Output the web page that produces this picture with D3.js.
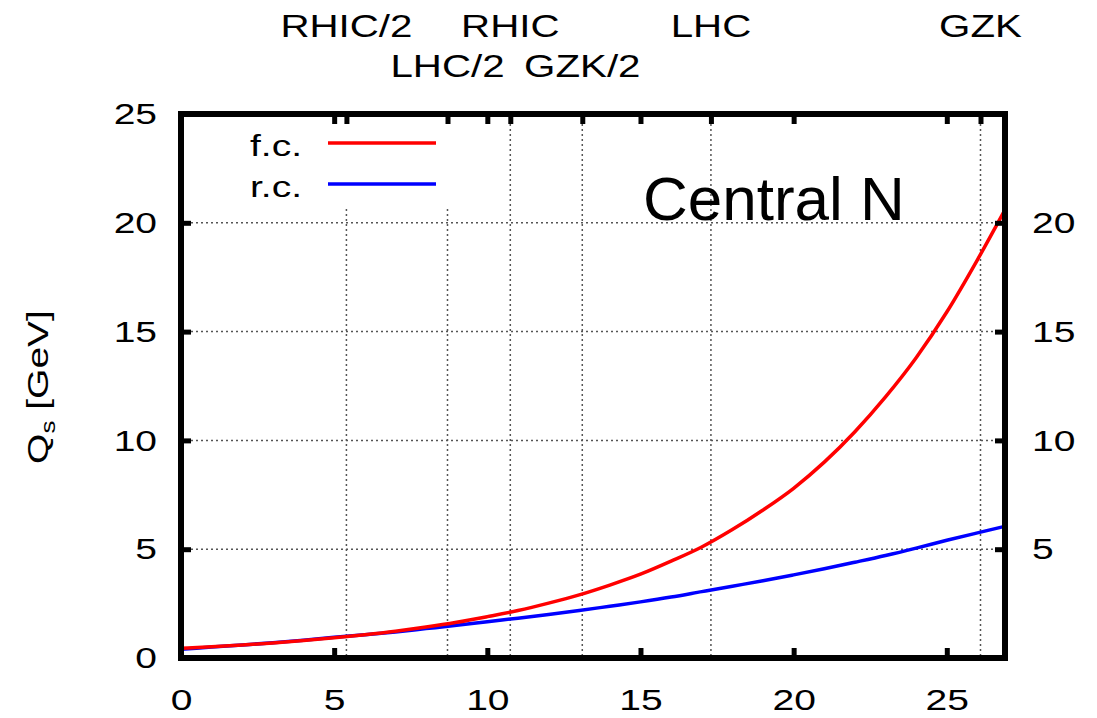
<!DOCTYPE html>
<html>
<head>
<meta charset="utf-8">
<script src="https://cdn.jsdelivr.net/npm/d3@7"></script>
<style>
  body { margin: 0; background: #fff; }
  svg { display: block; font-family: "Liberation Sans", Arial, sans-serif; }
  .grid line { stroke: #555; stroke-width: 1.5; stroke-dasharray: 2,3; }
  .axis line { stroke: #000; stroke-width: 5; }
  .axis text { font-size: 30px; fill: #000; }
</style>
</head>
<body>
<div id="chart"></div>
<script>
// rapidity-like variable on x, saturation scale Q_s on y
const xVals = [0, 1, 2, 3, 4, 5, 6, 7, 8, 9, 10, 11, 12, 13, 14, 15, 16, 17, 18, 19, 20, 21, 22, 23, 24, 25, 26, 26.9];
const fcVals = [0.45, 0.52, 0.6, 0.69, 0.8, 0.93, 1.07, 1.23, 1.42, 1.64, 1.9, 2.18, 2.52, 2.9, 3.35, 3.85, 4.45, 5.1, 5.9, 6.8, 7.8, 9.0, 10.4, 12.0, 13.8, 15.9, 18.3, 20.6];
const rcVals = [0.4, 0.5, 0.6, 0.7, 0.82, 0.95, 1.07, 1.2, 1.35, 1.5, 1.67, 1.83, 2.0, 2.18, 2.38, 2.58, 2.8, 3.05, 3.3, 3.55, 3.82, 4.1, 4.4, 4.71, 5.05, 5.41, 5.75, 6.05];

const markerNames = ['RHIC/2', 'LHC/2', 'RHIC', 'GZK/2', 'LHC', 'GZK'];
const markerPos = [5.4, 8.7, 10.75, 13.1, 17.3, 26.1];
const markerRow = [0, 1, 0, 1, 0, 0];

const xTicks = [0, 5, 10, 15, 20, 25];
const yTicks = [0, 5, 10, 15, 20, 25];
const yTicksRight = [5, 10, 15, 20];

const width = 1097;
const height = 718;
const plot = { left: 181, right: 1005, top: 114, bottom: 658 };
const stretch = 1.3; // the original's text is wide

const svg = d3.select('#chart')
    .append('svg')
    .attr('width', width)
    .attr('height', height);

const x = d3.scaleLinear().domain([0, 26.9]).range([plot.left, plot.right]);
const y = d3.scaleLinear().domain([0, 25]).range([plot.bottom, plot.top]);

// horizontal grid
svg.append('g')
    .attr('class', 'grid')
    .selectAll('line')
    .data(yTicksRight)
    .join('line')
    .attr('x1', plot.left)
    .attr('x2', plot.right)
    .attr('y1', d => y(d))
    .attr('y2', d => y(d));

// vertical marker lines
svg.append('g')
    .attr('class', 'grid')
    .selectAll('line')
    .data(markerPos)
    .join('line')
    .attr('x1', d => x(d))
    .attr('x2', d => x(d))
    .attr('y1', plot.top)
    .attr('y2', plot.bottom);

// key box (opaque, hides the grid behind it)
svg.append('rect')
    .attr('x', plot.left + 3)
    .attr('y', plot.top + 3)
    .attr('width', 280)
    .attr('height', 89)
    .attr('fill', '#fff');

// curves
const line = d3.line()
    .x((d, i) => x(xVals[i]))
    .y(d => y(d))
    .curve(d3.curveMonotoneX);

svg.append('path')
    .datum(rcVals)
    .attr('d', line)
    .attr('fill', 'none')
    .attr('stroke', '#0000ff')
    .attr('stroke-width', 3.5);

svg.append('path')
    .datum(fcVals)
    .attr('d', line)
    .attr('fill', 'none')
    .attr('stroke', '#ff0000')
    .attr('stroke-width', 3.5);

// axes (inward ticks)
const bottomAxis = svg.append('g')
    .attr('class', 'axis')
    .attr('transform', `translate(0,${plot.bottom})`)
    .call(d3.axisBottom(x).tickValues(xTicks).tickSizeInner(-10).tickSizeOuter(0).tickPadding(31));

svg.append('g')
    .attr('class', 'axis')
    .attr('transform', `translate(0,${plot.top})`)
    .call(d3.axisTop(x).tickValues(xTicks.concat(markerPos)).tickSizeInner(-10).tickSizeOuter(0).tickFormat(''));

const leftAxis = svg.append('g')
    .attr('class', 'axis')
    .attr('transform', `translate(${plot.left},0)`)
    .call(d3.axisLeft(y).tickValues(yTicks).tickSizeInner(-10).tickSizeOuter(0).tickPadding(24));

const rightAxis = svg.append('g')
    .attr('class', 'axis')
    .attr('transform', `translate(${plot.right},0)`)
    .call(d3.axisRight(y).tickValues(yTicksRight).tickSizeInner(-10).tickSizeOuter(0).tickPadding(27));

svg.selectAll('.axis .domain').remove();

// widen tick labels
bottomAxis.selectAll('text').attr('transform', `scale(${stretch},1)`);
leftAxis.selectAll('text').attr('x', -24 / stretch).attr('transform', `scale(${stretch},1)`);
rightAxis.selectAll('text').attr('x', 27 / stretch).attr('transform', `scale(${stretch},1)`);

// frame
svg.append('rect')
    .attr('x', plot.left)
    .attr('y', plot.top)
    .attr('width', plot.right - plot.left)
    .attr('height', plot.bottom - plot.top)
    .attr('fill', 'none')
    .attr('stroke', '#000')
    .attr('stroke-width', 6);

// marker labels on top
svg.append('g')
    .selectAll('text')
    .data(markerNames)
    .join('text')
    .attr('transform', (d, i) => `translate(${x(markerPos[i])},${markerRow[i] === 0 ? 37 : 77}) scale(${stretch},1)`)
    .attr('text-anchor', 'middle')
    .attr('font-size', 31)
    .text(d => d);

// legend
const legendNames = ['f.c.', 'r.c.'];
const legendColors = ['#ff0000', '#0000ff'];
const legend = svg.append('g')
    .selectAll('g')
    .data(legendNames)
    .join('g')
    .attr('transform', (d, i) => `translate(0,${143 + i * 41})`);

legend.append('text')
    .attr('transform', `translate(302,13) scale(${stretch},1)`)
    .attr('text-anchor', 'end')
    .attr('font-size', 30)
    .text(d => d);

legend.append('line')
    .attr('x1', 328)
    .attr('x2', 436)
    .attr('stroke', (d, i) => legendColors[i])
    .attr('stroke-width', 3.5);

// annotation
svg.append('text')
    .attr('x', 643)
    .attr('y', 220)
    .attr('font-size', 62)
    .text('Central N');

// y axis label
const yLabel = svg.append('text')
    .attr('transform', `translate(48,387) rotate(-90) scale(${stretch},1)`)
    .attr('text-anchor', 'middle')
    .attr('font-size', 30);
yLabel.append('tspan').text('Q');
yLabel.append('tspan').attr('font-size', 20).attr('dy', 7).text('s');
yLabel.append('tspan').attr('dy', -7).text(' [GeV]');
</script>
</body>
</html>
